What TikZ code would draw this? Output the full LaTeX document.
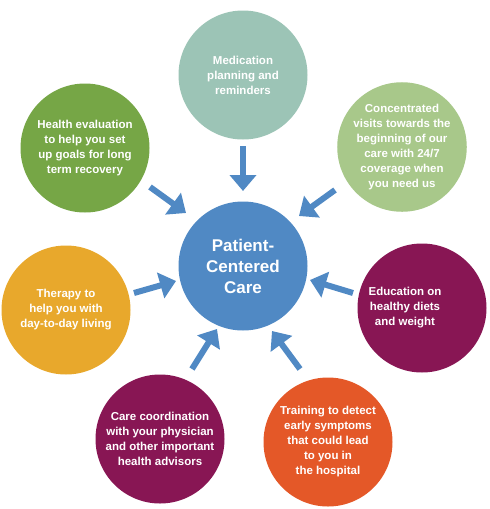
\documentclass[tikz,border=0pt]{standalone}
\usepackage{fontspec}
\setmainfont{Liberation Sans}
\usetikzlibrary{arrows.meta}
\definecolor{cteal}{RGB}{156,196,182}
\definecolor{cgreen}{RGB}{118,166,70}
\definecolor{clgreen}{RGB}{168,200,138}
\definecolor{cblue}{RGB}{80,137,196}
\definecolor{cyellow}{RGB}{232,168,44}
\definecolor{cpurple}{RGB}{136,22,84}
\definecolor{corange}{RGB}{228,88,40}
\tikzset{
  circ/.style={circle, minimum size=129pt, inner sep=0pt, text=white, align=center,
    font=\bfseries\fontsize{11.5}{15}\selectfont},
  txt/.style={text=white, align=center, font=\bfseries\fontsize{11.5}{15}\selectfont},
  arr/.style={draw=cblue, line width=6pt, -{Triangle[width=26pt,length=16pt]}}
}
\begin{document}
\begin{tikzpicture}[x=1pt,y=-1pt]
\useasboundingbox[fill=white] (0,0) rectangle (490,509);
\node[circ, fill=cteal] (med) at (243,75) {Medication\\planning and\\reminders};
\node[circ, fill=cgreen] (hea) at (85,148) {Health evaluation\\to help you set\\up goals for long\\term recovery};
\node[circ, fill=clgreen] (con) at (402,147) {Concentrated\\visits towards the\\beginning of our\\care with 24/7\\coverage when\\you need us};
\node[circ, fill=cblue, font=\bfseries\fontsize{17}{21}\selectfont] (pcc) at (243,266) {Patient-\\Centered\\Care};
\node[circ, fill=cyellow] (the) at (66,310) {Therapy to\\help you with\\day-to-day living};
\node[circ, fill=cpurple, label={[txt, xshift=-17pt]center:{Education on\\healthy diets\\and weight}}] (edu) at (422,308) {};
\node[circ, fill=cpurple] (cc) at (160,439) {Care coordination\\with your physician\\and other important\\health advisors};
\node[circ, fill=corange] (tra) at (328,442) {Training to detect\\early symptoms\\that could lead\\to you in\\the hospital};
% arrow end points
\coordinate (a1s) at (243,146); \coordinate (a1e) at (243,191);
\coordinate (a2s) at (150,187); \coordinate (a2e) at (186,213);
\coordinate (a3s) at (335,190); \coordinate (a3e) at (299,216);
\coordinate (a4s) at (134,293); \coordinate (a4e) at (176,281);
\coordinate (a5s) at (353,293); \coordinate (a5e) at (310,280);
\coordinate (a6s) at (192,369); \coordinate (a6e) at (217,329);
\coordinate (a7s) at (300,369); \coordinate (a7e) at (272,331);
\draw[arr] (a1s) -- (a1e);
\draw[arr] (a2s) -- (a2e);
\draw[arr] (a3s) -- (a3e);
\draw[arr] (a4s) -- (a4e);
\draw[arr] (a5s) -- (a5e);
\draw[arr] (a6s) -- (a6e);
\draw[arr] (a7s) -- (a7e);
\end{tikzpicture}
\end{document}
